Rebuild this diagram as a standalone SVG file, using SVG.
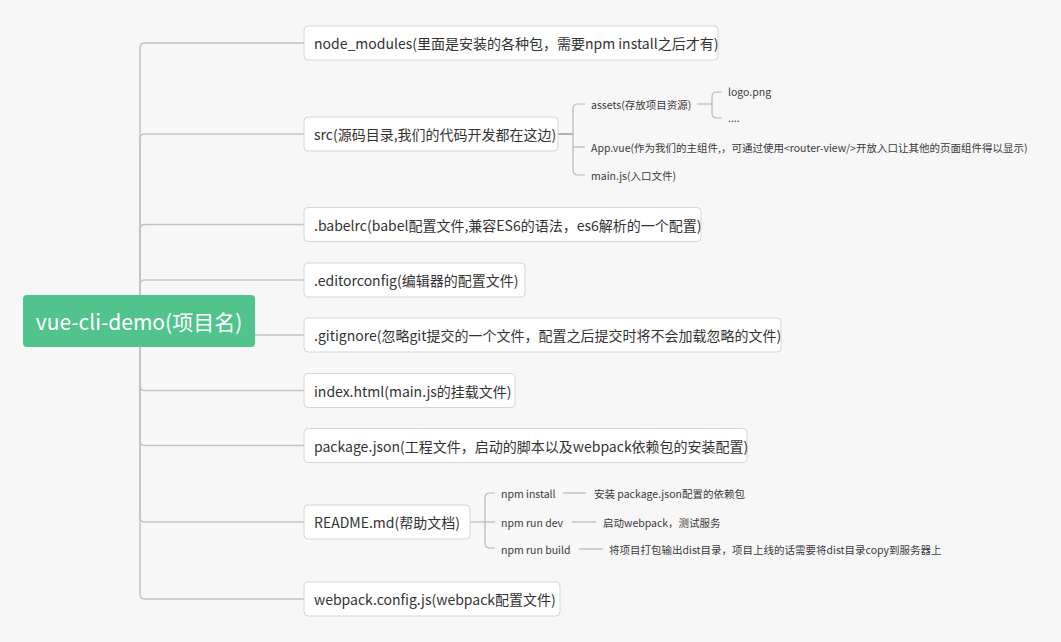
<svg xmlns="http://www.w3.org/2000/svg" width="1061" height="642" viewBox="0 0 1061 642">
<style>
.bg{fill:#f7f7f7}
.box{fill:#ffffff;stroke:#d6d6d6;stroke-width:1}
.root{fill:#51c48d}
.t{font-family:"Noto Sans CJK SC","Noto Sans",sans-serif;font-size:14px;fill:#333333;dominant-baseline:central}
.rt{font-family:"Noto Sans CJK SC","Noto Sans",sans-serif;font-size:21px;fill:#ffffff;dominant-baseline:central;text-anchor:middle}
.s{font-family:"Noto Sans CJK SC","Noto Sans",sans-serif;font-size:10.5px;fill:#3a3a3a;dominant-baseline:central}
.c{fill:none;stroke:#c4c4c4;stroke-width:1.5}
.c2{fill:none;stroke:#b8b8b8;stroke-width:1.2}
.c3{fill:none;stroke:#b0b0b0;stroke-width:2}
</style>
<rect class="bg" x="0" y="0" width="1061" height="642"/>
<g id="connectors">
<path class="c" d="M140,321 V48 Q140,43 145,43 H304"/>
<path class="c" d="M140,321 V139 Q140,134 145,134 H304"/>
<path class="c" d="M140,321 V229.5 Q140,224.5 145,224.5 H304"/>
<path class="c" d="M140,321 V285 Q140,280 145,280 H304"/>
<path class="c" d="M140,321 V330 Q140,335 145,335 H304"/>
<path class="c" d="M140,321 V385.5 Q140,390.5 145,390.5 H304"/>
<path class="c" d="M140,321 V440.5 Q140,445.5 145,445.5 H304"/>
<path class="c" d="M140,321 V517 Q140,522 145,522 H304"/>
<path class="c" d="M140,321 V594 Q140,599 145,599 H304"/>
<path class="c3" d="M558,134 H573"/>
<path class="c2" d="M573,134 V109 Q573,104 578,104 H585"/>
<path class="c2" d="M573,134 V170 Q573,175 578,175 H585"/>
<path class="c2" d="M573,147 H585"/>
<path class="c2" d="M697,104 H712"/>
<path class="c2" d="M712,104 V97 Q712,92 717,92 H722"/>
<path class="c2" d="M712,104 V113 Q712,118 717,118 H722"/>
<path class="c2" d="M470,522 H485"/>
<path class="c2" d="M485,522 V498 Q485,493 490,493 H495"/>
<path class="c2" d="M485,522 V543 Q485,548 490,548 H495"/>
<path class="c2" d="M485,522 H495"/>
<path class="c2" d="M563,493 H586"/>
<path class="c2" d="M572,522 H596"/>
<path class="c2" d="M579,549 H603"/>
</g>
<g id="root">
<rect class="root" x="23" y="295" width="232" height="52" rx="4"/>
<text class="rt" x="139" y="321">vue-cli-demo(项目名)</text>
</g>
<g id="node_modules">
<rect class="box" x="304" y="26" width="414" height="34" rx="4"/>
<text class="t" x="314" y="43">node_modules(里面是安装的各种包，需要npm install之后才有)</text>
</g>
<g id="src">
<rect class="box" x="304" y="117" width="254" height="34" rx="4"/>
<text class="t" x="314" y="134">src(源码目录,我们的代码开发都在这边)</text>
</g>
<g id="assets"><text class="s" x="591" y="104">assets(存放项目资源)</text></g>
<g id="logo"><text class="s" x="728" y="91">logo.png</text></g>
<g id="dots"><text class="s" x="728" y="117">....</text></g>
<g id="appvue"><text class="s" x="591" y="147">App.vue(作为我们的主组件,，可通过使用&lt;router-view/&gt;开放入口让其他的页面组件得以显示)</text></g>
<g id="mainjs"><text class="s" x="591" y="175">main.js(入口文件)</text></g>
<g id="babelrc">
<rect class="box" x="304" y="207.5" width="397" height="34" rx="4"/>
<text class="t" x="314" y="224.5">.babelrc(babel配置文件,兼容ES6的语法，es6解析的一个配置)</text>
</g>
<g id="editorconfig">
<rect class="box" x="304" y="263" width="221" height="34" rx="4"/>
<text class="t" x="314" y="280">.editorconfig(编辑器的配置文件)</text>
</g>
<g id="gitignore">
<rect class="box" x="304" y="318" width="477" height="34" rx="4"/>
<text class="t" x="314" y="335">.gitignore(忽略git提交的一个文件，配置之后提交时将不会加载忽略的文件)</text>
</g>
<g id="index">
<rect class="box" x="304" y="373.5" width="211" height="34" rx="4"/>
<text class="t" x="314" y="390.5">index.html(main.js的挂载文件)</text>
</g>
<g id="package">
<rect class="box" x="304" y="428.5" width="443" height="34" rx="4"/>
<text class="t" x="314" y="445.5">package.json(工程文件，启动的脚本以及webpack依赖包的安装配置)</text>
</g>
<g id="readme">
<rect class="box" x="304" y="505" width="166" height="34" rx="4"/>
<text class="t" x="314" y="522">README.md(帮助文档)</text>
</g>
<g id="npm_install"><text class="s" x="501" y="493">npm install</text></g>
<g id="npm_install_desc"><text class="s" x="594" y="493">安装 package.json配置的依赖包</text></g>
<g id="npm_dev"><text class="s" x="501" y="522">npm run dev</text></g>
<g id="npm_dev_desc"><text class="s" x="603" y="522">启动webpack，测试服务</text></g>
<g id="npm_build"><text class="s" x="501" y="549">npm run build</text></g>
<g id="npm_build_desc"><text class="s" x="609" y="549">将项目打包输出dist目录，项目上线的话需要将dist目录copy到服务器上</text></g>
<g id="webpack">
<rect class="box" x="304" y="582" width="256" height="34" rx="4"/>
<text class="t" x="314" y="599">webpack.config.js(webpack配置文件)</text>
</g>
</svg>
